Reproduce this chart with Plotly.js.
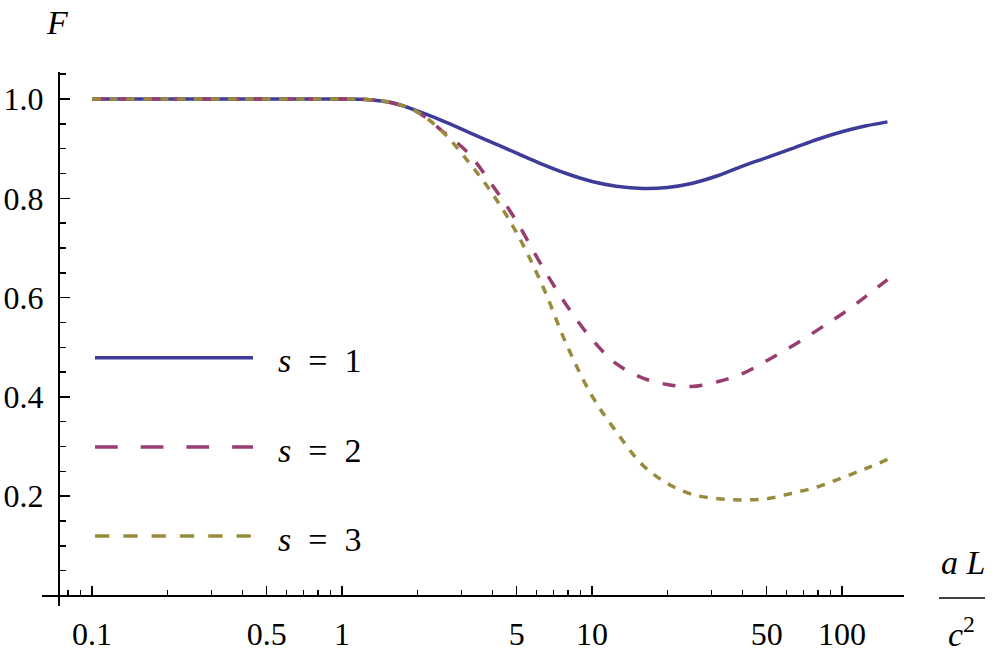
<!DOCTYPE html>
<html>
<head>
<meta charset="utf-8">
<script src="https://cdn.plot.ly/plotly-3.0.1.min.js"></script>
<style>
  html,body{margin:0;padding:0;background:#fff;}
  #chart{width:996px;height:663px;}
</style>
</head>
<body>
<div id="chart"></div>
<script>
// ===== data =====
const xs = [0.1, 0.2, 0.4, 0.63, 0.8, 1, 1.25, 1.6, 2, 2.5, 3.2, 4, 5, 6.3, 8, 10, 12.5, 16, 20, 25, 32, 40, 50, 63, 80, 100, 125, 152];
const s1 = [1, 1, 1, 1, 1, 1, 0.999, 0.992, 0.976, 0.957, 0.9335, 0.912, 0.891, 0.869, 0.849, 0.834, 0.8245, 0.820, 0.822, 0.830, 0.846, 0.865, 0.882, 0.900, 0.919, 0.934, 0.946, 0.954];
const s2 = [1, 1, 1, 1, 1, 1, 0.999, 0.992, 0.974, 0.937, 0.891, 0.826, 0.753, 0.664, 0.581, 0.516, 0.467, 0.438, 0.425, 0.421, 0.431, 0.447, 0.473, 0.502, 0.535, 0.567, 0.603, 0.636];
const s3 = [1, 1, 1, 1, 1, 1, 0.999, 0.992, 0.974, 0.936, 0.874, 0.809, 0.730, 0.627, 0.500, 0.402, 0.330, 0.262, 0.226, 0.204, 0.195, 0.1925, 0.195, 0.206, 0.219, 0.237, 0.256, 0.274];
const seriesLabels = ['1', '2', '3'];   // s = ...

const xMajor = [0.1, 0.5, 1, 5, 10, 50, 100];
const xMajorText = ['0.1', '0.5', '1', '5', '10', '50', '100'];
const xMinor = [0.08, 0.09, 0.2, 0.3, 0.4, 0.6, 0.7, 0.8, 0.9, 2, 3, 4, 6, 7, 8, 9, 20, 30, 40, 60, 70, 80, 90];
const yMajor = [0.2, 0.4, 0.6, 0.8, 1.0];
const yMajorText = ['0.2', '0.4', '0.6', '0.8', '1.0'];
const yMinor = [0.05, 0.1, 0.15, 0.25, 0.3, 0.35, 0.45, 0.5, 0.55, 0.65, 0.7, 0.75, 0.85, 0.9, 0.95, 1.05];

// ===== look =====
const COLORS = ['#3d3d99', '#993d71', '#998b3d'];
const DASH_CURVE = ['solid', '13px,14px', '8.5px,8.5px'];
const DASH_KEY = ['solid', '22.7px,23px', '14.3px,14px'];
const SERIF = 'Liberation Serif, DejaVu Serif, serif';

// plot area in pixels, helpers to go to paper fractions
const L = 42, R = 904, T = 72, B = 606;
const px = p => (p - L) / (R - L);
const py = p => (B - p) / (B - T);

const traces = [s1, s2, s3].map((ys, i) => ({
  type: 'scatter', mode: 'lines', x: xs, y: ys,
  line: {color: COLORS[i], width: 3.5, dash: DASH_CURVE[i], shape: 'spline', smoothing: 1},
  showlegend: false, hoverinfo: 'skip'
}));

// hand-made legend (long swatches like the original)
const keyRows = [357.7, 447, 536];
const shapes = keyRows.map((r, i) => ({
  type: 'line', xref: 'paper', yref: 'paper',
  x0: px(95), x1: px(253), y0: py(r), y1: py(r),
  line: {color: COLORS[i], width: 3.5, dash: DASH_KEY[i]}
}));
// fraction bar of the x label
shapes.push({type: 'line', xref: 'paper', yref: 'paper', x0: px(939), x1: px(985), y0: py(598), y1: py(598),
  line: {color: '#000', width: 1.6}});

const annotations = keyRows.map((r, i) => ({
  xref: 'paper', yref: 'paper', x: px(276), y: py(r + 3), xanchor: 'left', yanchor: 'middle',
  text: '<i>s</i>\u2002=\u2002' + seriesLabels[i], showarrow: false,
  font: {family: SERIF, size: 34, color: '#000'}
}));
annotations.push(
  {xref: 'paper', yref: 'paper', x: px(57), y: py(22), xanchor: 'center', yanchor: 'middle',
   text: '<i>F</i>', showarrow: false, font: {family: SERIF, size: 34, color: '#000'}},
  {xref: 'paper', yref: 'paper', x: px(963), y: py(562), xanchor: 'center', yanchor: 'middle',
   text: '<i>a L</i>', showarrow: false, font: {family: SERIF, size: 34, color: '#000'}},
  {xref: 'paper', yref: 'paper', x: px(962), y: py(632), xanchor: 'center', yanchor: 'middle',
   text: '<i>c</i><sup>2</sup>', showarrow: false, font: {family: SERIF, size: 34, color: '#000'}}
);

const axisBase = {
  showline: true, linecolor: '#000', linewidth: 2, mirror: false,
  showgrid: false, zeroline: false, ticks: 'inside', tickcolor: '#000', tickwidth: 1.5,
  tickmode: 'array', tickfont: {family: SERIF, size: 32, color: '#000'}, automargin: false,
  fixedrange: true
};

const layout = {
  width: 996, height: 663,
  margin: {l: L, r: 996 - R, t: T, b: 663 - B, pad: 0},
  paper_bgcolor: '#fff', plot_bgcolor: '#fff',
  font: {family: SERIF, color: '#000'},
  xaxis: Object.assign({}, axisBase, {
    type: 'log', range: [-1.2, 2.248], anchor: 'free', position: py(595.5),
    tickvals: xMajor, ticktext: xMajorText, ticklen: 9, ticklabelstandoff: 10,
    minor: {tickvals: xMinor, ticks: 'inside', ticklen: 5, tickwidth: 1.5, tickcolor: '#000', showgrid: false}
  }),
  yaxis: Object.assign({}, axisBase, {
    range: [-0.0211, 1.0544], anchor: 'free', position: px(59),
    tickvals: yMajor, ticktext: yMajorText, ticklen: 10, ticklabelstandoff: 8,
    minor: {tickvals: yMinor, ticks: 'inside', ticklen: 6, tickwidth: 1.5, tickcolor: '#000', showgrid: false}
  }),
  shapes, annotations, showlegend: false
};

Plotly.newPlot('chart', traces, layout, {displayModeBar: false, staticPlot: true});
</script>
</body>
</html>
